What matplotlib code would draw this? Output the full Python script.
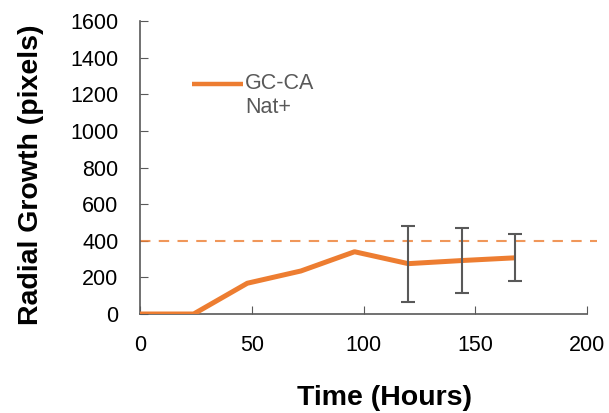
import matplotlib
matplotlib.use("Agg")
import matplotlib.pyplot as plt

plt.rcParams['font.family'] = ['Liberation Sans', 'DejaVu Sans']

hours = [0, 24, 48, 72, 96, 120, 144, 168]
growth = [0, 0, 168, 235, 340, 275, 292, 307]
err = [0, 0, 0, 0, 0, 207, 175, 128]
reference_level = 396
series_label = "GC-CA\nNat+"

orange = "#ED7D31"
grey = "#595959"

fig = plt.figure(figsize=(6.09, 4.13), dpi=100)
ax = fig.add_axes([0.2299, 0.2397, 0.734, 0.7094])

ax.plot(hours, growth, color=orange, lw=3.6, solid_capstyle='butt', zorder=3)
idx = [i for i, e in enumerate(err) if e > 0]
ax.errorbar([hours[i] for i in idx], [growth[i] for i in idx], yerr=[err[i] for i in idx],
            fmt='none', ecolor=grey, elinewidth=1.5, capsize=5, capthick=1.5, zorder=4)
ax.plot([0, 204.5], [reference_level, reference_level], color=orange, lw=1.5,
        dashes=(5, 4), alpha=0.8, clip_on=False, zorder=2)

ax.set_xlim(0, 200)
ax.set_ylim(0, 1600)
ax.set_xticks([0, 50, 100, 150, 200])
ax.set_yticks(range(0, 1601, 200))
for s in ['top', 'right']:
    ax.spines[s].set_visible(False)
for s in ['left', 'bottom']:
    ax.spines[s].set_color(grey)
    ax.spines[s].set_linewidth(1.2)
ax.tick_params(direction='in', length=6, color=grey, labelsize=15.5, labelcolor='black')
ax.tick_params(axis='x', pad=15)
ax.tick_params(axis='y', pad=15.5)
ax.set_xlabel("Time (Hours)", fontsize=20.5, fontweight='bold', labelpad=21, x=0.548)
ax.set_ylabel("Radial Growth (pixels)", fontsize=20.5, fontweight='bold', labelpad=19, y=0.474)

# legend drawn manually: handle aligned with first line of the label
ax.plot([0.116, 0.230], [0.785, 0.785], transform=ax.transAxes, color=orange, lw=3.2,
        solid_capstyle='butt', clip_on=False)
ax.text(0.235, 0.822, series_label, transform=ax.transAxes, ha='left', va='top',
        fontsize=15.5, color=grey, linespacing=1.15)

fig.savefig("out.png", dpi=100)
